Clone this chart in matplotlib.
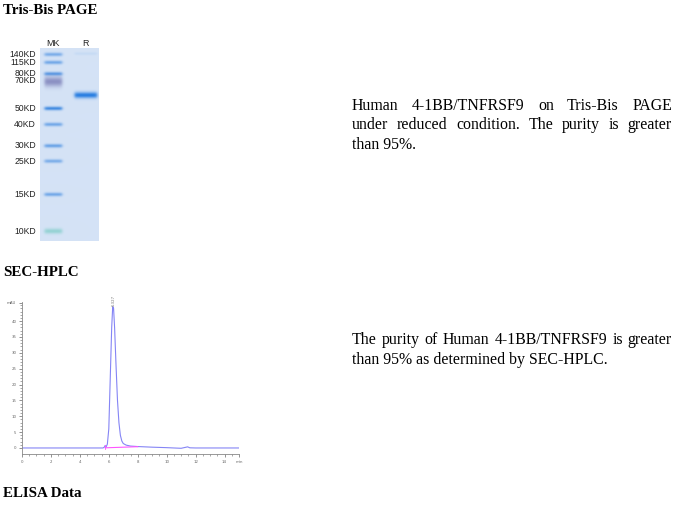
import numpy as np
import matplotlib
matplotlib.use("Agg")
import matplotlib.pyplot as plt
from matplotlib.colors import to_rgb

W, H = 686, 508

# --- gel data (migration in px from gel top) ---
marker_kd = ["140KD", "115KD", "80KD", "70KD", "50KD", "40KD", "30KD", "25KD", "15KD", "10KD"]
marker_y = [6.3, 14.3, 25.7, 33.5, 60.3, 76.3, 97.7, 113.0, 146.3, 183.0]
marker_amp = [0.55, 0.6, 0.75, 0.65, 0.9, 0.6, 0.65, 0.55, 0.6, 0.5]
sample_y = [5.5, 47.0]
sample_amp = [0.08, 0.95]

# --- SEC-HPLC trace ---
hplc_t = [0, 5.6, 5.7, 5.75, 5.8, 5.9, 6.0, 6.1, 6.2, 6.27, 6.33, 6.4, 6.5, 6.6,
          6.7, 6.8, 6.9, 7.0, 7.2, 7.5, 8.0, 9.0, 10.0, 11.0, 11.3, 11.45, 11.6, 12.0, 15.0]
hplc_mau = [0, 0, 0.3, 0.8, 0.2, 1.2, 6, 22, 38, 44.5, 44, 38, 26, 15,
            8, 4, 2.2, 1.4, 0.9, 0.6, 0.45, 0.25, 0.1, -0.1, 0.2, 0.35, 0.05, 0, 0]
peak_rt = 6.327

p1_lines = ["Human 4-1BB/TNFRSF9 on Tris-Bis PAGE",
            "under reduced condition. The purity is greater",
            "than 95%."]
p2_lines = ["The purity of Human 4-1BB/TNFRSF9 is greater",
            "than 95% as determined by SEC-HPLC."]


def fx(x):
    return x / W


def fy(y):
    return 1 - y / H


fig = plt.figure(figsize=(W / 100, H / 100), dpi=100)
serif = "Liberation Serif"

# headings
for txt, yb in [("Tris-Bis PAGE", 14), ("SEC-HPLC", 276), ("ELISA Data", 497)]:
    fig.text(fx(3), fy(yb), txt, family=serif, weight="bold", fontsize=10.8,
             va="baseline", ha="left")

# ---------- gel ----------
gx0, gx1, gy0, gy1 = 40, 99, 48, 241
gw, gh = gx1 - gx0, gy1 - gy0
ax_gel = fig.add_axes([fx(gx0), fy(gy1), gw / W, gh / H])
res = 4
yy, xx = np.mgrid[0:gh * res, 0:gw * res] / res
bg = np.array(to_rgb("#d5e3f6"))
img = np.ones((gh * res, gw * res, 3)) * bg


def lane_profile(x, a, b):
    return 1 / (1 + np.exp(-(x - a) * 1.2)) * 1 / (1 + np.exp((x - b) * 1.2))


def add_band(img, y0, amp, sigma, lane, color):
    prof = amp * np.exp(-((yy - y0) / sigma) ** 2) * lane_profile(xx, *lane)
    c = np.array(to_rgb(color))
    return img * (1 - prof[..., None]) + c * prof[..., None]


mk_lane = (4.5, 22)
r_lane = (34.5, 57)
for kd, y0, amp in zip(marker_kd, marker_y, marker_amp):
    if kd == "70KD":
        img = add_band(img, y0, amp, 5.0, mk_lane, "#6465a8")
    elif kd == "10KD":
        img = add_band(img, y0, amp, 2.6, mk_lane, "#56c2b2")
    else:
        img = add_band(img, y0, amp, 1.8, mk_lane, "#2f80de")
for y0, amp in zip(sample_y, sample_amp):
    img = add_band(img, y0, amp, 3.0 if amp > 0.5 else 1.5, r_lane, "#1e78e0")

ax_gel.imshow(np.clip(img, 0, 1), extent=(0, gw, gh, 0), aspect="auto",
              interpolation="bilinear")
ax_gel.set_xlim(0, gw)
ax_gel.set_ylim(gh, 0)
ax_gel.axis("off")

label_y = [6.3, 14.3, 25.2, 33.0, 60.3, 76.3, 97.7, 113.0, 146.3, 183.0]
for kd, y0 in zip(marker_kd, label_y):
    fig.text(fx(36), fy(gy0 + y0), kd, family="Liberation Sans", fontsize=6.2,
             ha="right", va="center", color="#222222")
fig.text(fx(53), fy(43), "MK", family="Liberation Sans", fontsize=6.4,
         ha="center", va="center", color="#222222")
fig.text(fx(85), fy(43), "R", family="Liberation Sans", fontsize=6.4,
         ha="center", va="center", color="#222222")

# ---------- SEC-HPLC ----------
hx0, hx1, hy0, hy1 = 22, 239, 302, 454
ax = fig.add_axes([fx(hx0), fy(hy1), (hx1 - hx0) / W, (hy1 - hy0) / H])
ax.plot(hplc_t, hplc_mau, color="#8585f5", lw=0.8)
ax.plot([5.75, 8.0], [0.05, 0.4], color="#ff55ff", lw=0.8)
ax.plot([5.72, 5.72], [-0.3, 0.9], color="#ff55ff", lw=0.6)
ax.text(peak_rt, 44.6, f"{peak_rt:.3f}", rotation=90, fontsize=2.8,
        color="#777777", ha="center", va="bottom")
ax.set_xlim(0, 15)
ax.set_ylim(-1.9, 46)
ax.set_xticks([0, 2, 4, 6, 8, 10, 12, 14, 15])
ax.set_xticklabels(["0", "2", "4", "6", "8", "10", "12", "14", "min"])
ax.set_xticks(np.arange(0, 15, 0.5), minor=True)
ax.set_yticks([0, 5, 10, 15, 20, 25, 30, 35, 40, 45.7])
ax.set_yticklabels(["0", "5", "10", "15", "20", "25", "30", "35", "40", "mAU"])
ax.set_yticks(np.arange(0, 46, 1), minor=True)
ax.tick_params(labelsize=2.8, colors="#666666", length=2.5, width=0.5, pad=1.5)
ax.tick_params(which="minor", length=1.3, width=0.4, colors="#666666")
for s in ["top", "right"]:
    ax.spines[s].set_visible(False)
for s in ["left", "bottom"]:
    ax.spines[s].set_color("#888888")
    ax.spines[s].set_linewidth(0.6)

# ---------- justified paragraphs ----------
renderer = fig.canvas.get_renderer()
tx0, tx1 = 352, 672
fsize = 11.4


def justified(lines, y_first, step):
    for i, line in enumerate(lines):
        yb = fy(y_first + i * step)
        words = line.split()
        if i == len(lines) - 1:
            fig.text(fx(tx0), yb, line, family=serif, fontsize=fsize, va="baseline")
            continue
        objs = [fig.text(0, yb, w, family=serif, fontsize=fsize, va="baseline")
                for w in words]
        widths = [o.get_window_extent(renderer).width for o in objs]
        gap = (tx1 - tx0 - sum(widths)) / (len(words) - 1)
        x = tx0
        for o, wd in zip(objs, widths):
            o.set_x(fx(x))
            x += wd + gap


justified(p1_lines, 109.5, 19.6)
justified(p2_lines, 344.5, 19.6)

fig.savefig("out.png", dpi=100)
